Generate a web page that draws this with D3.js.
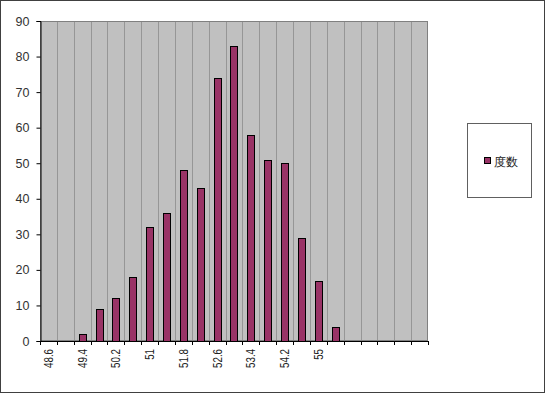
<!DOCTYPE html>
<html>
<head>
<meta charset="utf-8">
<script src="https://cdn.jsdelivr.net/npm/d3@7"></script>
<style>
  body { margin: 0; background: #fff; }
  text { font-family: "Liberation Sans", Arial, sans-serif; }
</style>
</head>
<body>
<div id="chart"></div>
<script>
// chart size
const width = 545;
const height = 393;

// category labels (bins of 0.4, only every other one labelled in the original)
const categories = ["48.6","49","49.4","49.8","50.2","50.6","51","51.4","51.8","52.2","52.6","53",
  "53.4","53.8","54.2","54.6","55","","","","","",""];
const shownLabels = ["48.6","49.4","50.2","51","51.8","52.6","53.4","54.2","55"];
// frequency per bin
const counts = [0,0,2,9,12,18,32,36,48,43,74,83,58,51,50,29,17,4,0,0,0,0,0];
const yTicks = [0,10,20,30,40,50,60,70,80,90];
const seriesName = "度数";

const plot = { left: 40, top: 21, right: 428, bottom: 341 };

const svg = d3.select("#chart").append("svg")
  .attr("width", width)
  .attr("height", height);

// outer chart border
svg.append("rect")
  .attr("x", 0.5).attr("y", 0.5)
  .attr("width", width - 1).attr("height", height - 1)
  .attr("fill", "#fff")
  .attr("stroke", "#404040");

const x = d3.scaleBand()
  .domain(d3.range(categories.length))
  .range([plot.left, plot.right])
  .paddingInner(0).paddingOuter(0);

const y = d3.scaleLinear()
  .domain([0, 90])
  .range([plot.bottom, plot.top]);

// plot background
svg.append("rect")
  .attr("x", plot.left).attr("y", plot.top)
  .attr("width", plot.right - plot.left).attr("height", plot.bottom - plot.top)
  .attr("fill", "#c0c0c0");

// vertical gridlines on category boundaries
svg.append("g")
  .selectAll("line")
  .data(d3.range(1, categories.length))
  .join("line")
    .attr("x1", i => Math.round(x(i)) + 0.5)
    .attr("x2", i => Math.round(x(i)) + 0.5)
    .attr("y1", plot.top)
    .attr("y2", plot.bottom)
    .attr("stroke", "#969696");

// plot border
svg.append("rect")
  .attr("x", plot.left + 0.5).attr("y", plot.top + 0.5)
  .attr("width", plot.right - plot.left - 1).attr("height", plot.bottom - plot.top - 1)
  .attr("fill", "none")
  .attr("stroke", "#808080");

// bars
const barW = x.bandwidth() * 0.42;
svg.append("g")
  .selectAll("rect")
  .data(counts.map((v, i) => ({ i, v })).filter(d => d.v > 0))
  .join("rect")
    .attr("x", d => Math.round(x(d.i) + (x.bandwidth() - barW) / 2) + 0.5)
    .attr("y", d => Math.round(y(d.v)) + 0.5)
    .attr("width", Math.round(barW))
    .attr("height", d => Math.round(y(0)) - Math.round(y(d.v)))
    .attr("fill", "#993366")
    .attr("stroke", "#000")
    .attr("stroke-width", 1);

// y axis
const yAxis = svg.append("g")
  .attr("transform", `translate(${plot.left + 0.5},0)`)
  .call(d3.axisLeft(y).tickValues(yTicks).tickSize(4).tickPadding(7));
yAxis.select(".domain").attr("stroke", "#000");
yAxis.selectAll(".tick line").attr("stroke", "#000");
yAxis.selectAll("text")
  .attr("font-size", 12.5)
  .attr("fill", "#333")
  .attr("font-family", "'Liberation Sans', Arial, sans-serif");

// x axis: line and ticks at category boundaries
const xg = svg.append("g");
xg.append("line")
  .attr("x1", plot.left).attr("x2", plot.right)
  .attr("y1", plot.bottom + 0.5).attr("y2", plot.bottom + 0.5)
  .attr("stroke", "#000");
xg.selectAll(".xt")
  .data(d3.range(0, categories.length + 1))
  .join("line")
    .attr("class", "xt")
    .attr("x1", i => Math.round(i < categories.length ? x(i) : plot.right) + 0.5)
    .attr("x2", i => Math.round(i < categories.length ? x(i) : plot.right) + 0.5)
    .attr("y1", plot.bottom)
    .attr("y2", plot.bottom + 4)
    .attr("stroke", "#000");

// rotated category labels (squeezed along their length like the original)
xg.selectAll(".xl")
  .data(categories.map((c, i) => ({ c, i })).filter(d => shownLabels.includes(d.c)))
  .join("text")
    .attr("class", "xl")
    .attr("transform", d => `translate(${x(d.i) + x.bandwidth() / 2 + 4.5},${plot.bottom + 8}) rotate(-90) scale(0.78,1)`)
    .attr("text-anchor", "end")
    .attr("font-size", 12.5)
    .attr("fill", "#222")
    .text(d => d.c);

// legend
const legend = svg.append("g");
legend.append("rect")
  .attr("x", 467.5).attr("y", 123.5)
  .attr("width", 64).attr("height", 74)
  .attr("fill", "#fff")
  .attr("stroke", "#606060");
legend.append("rect")
  .attr("x", 484.5).attr("y", 157.5)
  .attr("width", 6).attr("height", 6)
  .attr("fill", "#993366")
  .attr("stroke", "#000");
legend.append("text")
  .attr("x", 494).attr("y", 165.5)
  .attr("font-size", 12)
  .attr("font-family", "'Noto Sans CJK JP', sans-serif")
  .attr("fill", "#222")
  .text(seriesName);
</script>
</body>
</html>
